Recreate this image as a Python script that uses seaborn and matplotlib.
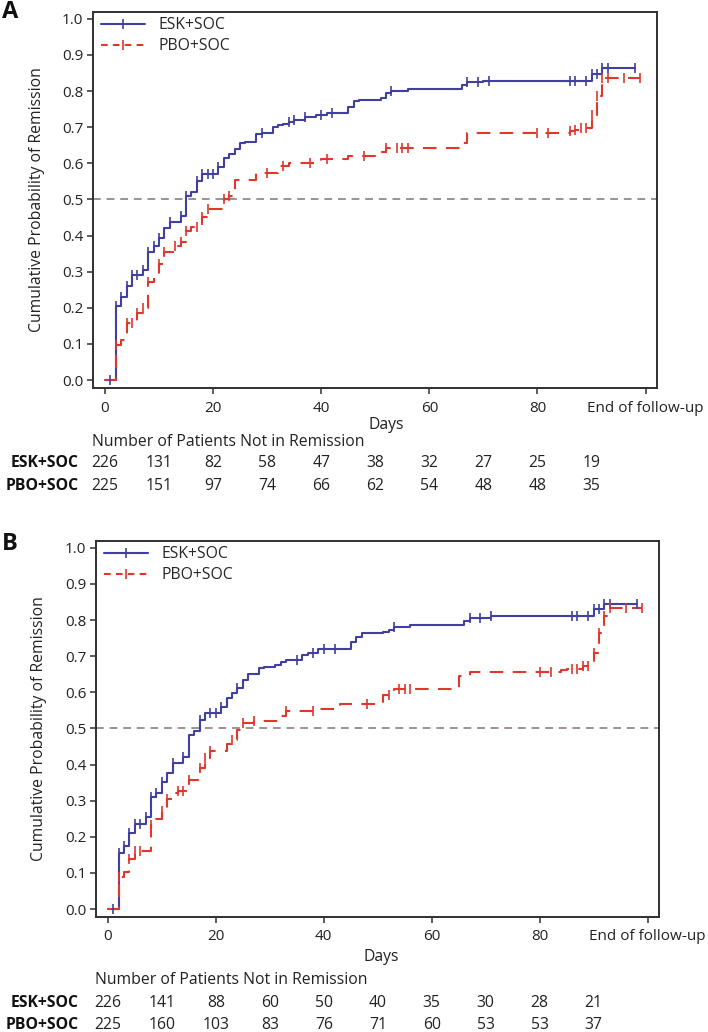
import numpy as np
import matplotlib
matplotlib.use("Agg")
import matplotlib.pyplot as plt
import matplotlib.transforms as mtransforms
from matplotlib.lines import Line2D
import seaborn as sns

# ---------------- data ----------------
arms = ["ESK+SOC", "PBO+SOC"]
risk_days = [0, 10, 20, 30, 40, 50, 60, 70, 80, 90]
x_ticks = [0, 20, 40, 60, 80, 100]
x_ticklabels = ["0", "20", "40", "60", "80", "End of follow-up"]
y_ticks = [0.0, 0.1, 0.2, 0.3, 0.4, 0.5, 0.6, 0.7, 0.8, 0.9, 1.0]

# Panel A
a_esk_t = [0, 2, 3, 4, 5, 7, 8, 9, 10, 11, 12, 14, 15, 16, 17, 18, 21, 22, 23, 24, 25, 26, 28, 29, 31,
           32, 33, 34, 35, 37, 39, 41, 45, 46, 47, 51, 52, 53, 56, 66, 67, 70, 90, 92]
a_esk_p = [0, 0.206, 0.23, 0.26, 0.29, 0.305, 0.355, 0.37, 0.392, 0.42, 0.437, 0.455, 0.51, 0.52, 0.55,
           0.57, 0.59, 0.615, 0.625, 0.64, 0.655, 0.66, 0.68, 0.685, 0.70, 0.705, 0.71, 0.715, 0.72,
           0.727, 0.735, 0.74, 0.757, 0.773, 0.776, 0.782, 0.794, 0.801, 0.805, 0.817, 0.824, 0.829,
           0.848, 0.863]
a_esk_end = 98
a_esk_cens = [1, 2, 3, 4, 5, 6, 7, 8, 9, 10, 12, 14, 15, 17, 18, 19, 20, 21, 29, 34, 35, 37, 40, 42,
              53, 67, 69, 71, 86, 87, 89, 90, 91, 92, 93, 98]

a_pbo_t = [0, 2, 3, 4, 6, 7, 8, 9, 10, 11, 13, 14, 15, 16, 18, 19, 22, 23, 24, 28, 32, 34, 40, 45,
           50, 52, 66, 67, 86, 87, 88, 90, 91, 92]
a_pbo_p = [0, 0.098, 0.11, 0.158, 0.186, 0.2, 0.272, 0.293, 0.321, 0.354, 0.37, 0.381, 0.413, 0.425,
           0.452, 0.474, 0.50, 0.51, 0.554, 0.572, 0.594, 0.60, 0.612, 0.62, 0.632, 0.643, 0.657,
           0.683, 0.69, 0.693, 0.699, 0.734, 0.787, 0.836]
a_pbo_end = 99
a_pbo_cens = [2, 4, 5, 6, 7, 8, 10, 11, 13, 14, 15, 17, 18, 19, 22, 23, 30, 33, 38, 41, 48, 52, 54,
              55, 56, 80, 82, 86, 87, 88, 89, 90, 91, 92, 93, 96, 99]

a_risk_esk = [226, 131, 82, 58, 47, 38, 32, 27, 25, 19]
a_risk_pbo = [225, 151, 97, 74, 66, 62, 54, 48, 48, 35]

# Panel B
b_esk_t = [0, 2, 3, 4, 5, 7, 8, 9, 10, 11, 12, 14, 15, 16, 17, 18, 21, 22, 23, 24, 25, 26, 28, 29,
           31, 32, 33, 36, 37, 39, 45, 46, 47, 51, 52, 53, 56, 66, 67, 71, 90, 92]
b_esk_p = [0, 0.156, 0.174, 0.211, 0.235, 0.256, 0.309, 0.32, 0.352, 0.378, 0.403, 0.422, 0.482,
           0.494, 0.524, 0.544, 0.559, 0.584, 0.598, 0.611, 0.634, 0.651, 0.667, 0.671, 0.676, 0.684,
           0.69, 0.704, 0.71, 0.72, 0.739, 0.753, 0.763, 0.768, 0.773, 0.782, 0.787, 0.798, 0.805,
           0.812, 0.83, 0.844]
b_esk_end = 98
b_esk_cens = [1, 2, 3, 4, 5, 6, 7, 8, 9, 10, 12, 14, 17, 19, 20, 21, 24, 35, 38, 40, 42, 53, 67, 69,
              71, 86, 87, 89, 90, 91, 92, 93, 98]

b_pbo_t = [0, 2, 3, 4, 5, 8, 9, 10, 11, 12, 13, 15, 17, 18, 19, 22, 23, 24, 25, 27, 32, 33, 39, 43,
           51, 53, 65, 67, 84, 85, 88, 90, 91, 92, 93]
b_pbo_p = [0, 0.089, 0.103, 0.138, 0.16, 0.233, 0.248, 0.272, 0.304, 0.32, 0.328, 0.357, 0.39,
           0.417, 0.438, 0.457, 0.468, 0.496, 0.514, 0.521, 0.535, 0.547, 0.554, 0.567, 0.593, 0.61,
           0.646, 0.657, 0.662, 0.665, 0.674, 0.708, 0.763, 0.81, 0.833]
b_pbo_end = 99
b_pbo_cens = [2, 4, 5, 6, 8, 10, 11, 13, 14, 15, 17, 18, 19, 23, 25, 27, 33, 38, 48, 52, 54, 55, 56,
              80, 82, 86, 87, 88, 89, 90, 91, 92, 93, 96, 99]

b_risk_esk = [226, 141, 88, 60, 50, 40, 35, 30, 28, 21]
b_risk_pbo = [225, 160, 103, 83, 76, 71, 60, 53, 53, 37]

# ---------------- style ----------------
sns.set_theme(style="ticks")
plt.rcParams["font.family"] = ["Open Sans", "DejaVu Sans"]
plt.rcParams["font.size"] = 11

BLUE = "#4040a2"
RED = "#e0372d"
REF = "#9d9292"
SPINE = "#303030"
TXT = "#222222"
DASH = (0, (6.5, 4.5))
FS = 11.3

W, H = 708, 1032
fig = plt.figure(figsize=(W / 100, H / 100), dpi=100)


def fy(px):
    return 1 - px / H


def step_value(times, probs, c):
    idx = np.searchsorted(np.asarray(times, float), c, side="right") - 1
    return np.asarray(probs, float)[idx]


def draw_curve(ax, times, probs, end, cens, color, ls):
    xs = list(times) + [end]
    ys = list(probs) + [probs[-1]]
    sns.lineplot(x=xs, y=ys, ax=ax, color=color, linewidth=1.5, drawstyle="steps-post",
                 estimator=None, sort=False, linestyle=ls, legend=False)
    cy = [step_value(times, probs, c) for c in cens]
    sns.scatterplot(x=cens, y=cy, ax=ax, color=color, marker="|", s=45, linewidth=1.2,
                    legend=False, zorder=3)


def panel(rect_px, letter, letter_xy, esk, pbo, risk_esk, risk_pbo, rows_px, lbl_x, days_xy,
          ylab_x, num_x):
    l, t, r, b = rect_px
    ax = fig.add_axes([l / W, fy(b), (r - l) / W, (b - t) / H])
    ax.axhline(0.5, color=REF, lw=1.4, ls=(0, (4, 3)))
    draw_curve(ax, *esk, BLUE, "-")
    draw_curve(ax, *pbo, RED, DASH)
    ax.set_xlim(-2.2, 102.1)
    ax.set_ylim(-0.022, 1.019)
    ax.set_xticks(x_ticks)
    ax.set_xticklabels(x_ticklabels)
    ax.set_yticks(y_ticks)
    ax.set_yticklabels([f"{v:.1f}" for v in y_ticks])
    ax.tick_params(axis="both", labelsize=11, length=4, width=1.1, color=SPINE,
                   labelcolor=TXT, pad=3)
    ax.tick_params(axis="x", pad=5)
    for s in ax.spines.values():
        s.set_color(SPINE)
        s.set_linewidth(1.4)
    ax.set_xlabel("")
    ax.set_ylabel("Cumulative Probability of Remission", fontsize=FS, color=TXT)
    ax.yaxis.set_label_coords(ylab_x, 0.5)

    handles = [Line2D([], [], color=BLUE, lw=1.5, marker="|", markersize=7, markeredgewidth=1.2),
               Line2D([], [], color=RED, lw=1.5, ls=(0, (3.2, 2.5)), marker="|", markersize=7,
                      markeredgewidth=1.2)]
    ax.legend(handles, arms, loc="upper left", bbox_to_anchor=(0.004, 1.0), frameon=False,
              handlelength=2.8, handletextpad=0.85, borderaxespad=0.15, borderpad=0.2,
              labelspacing=0.3, fontsize=FS)

    fig.text(letter_xy[0] / W, fy(letter_xy[1]), letter, fontsize=17, fontweight="bold",
             ha="left", va="center", color="#111111")

    trans = mtransforms.blended_transform_factory(ax.transData, fig.transFigure)
    fig.text(days_xy[0] / W, fy(days_xy[1]), "Days", fontsize=FS, ha="center", va="center",
             color=TXT)
    fig.text(num_x / W, fy(rows_px[0]), "Number of Patients Not in Remission", fontsize=FS,
             ha="left", va="center", color=TXT)
    for name, vals, ypx in [(arms[0], risk_esk, rows_px[1]), (arms[1], risk_pbo, rows_px[2])]:
        fig.text(lbl_x / W, fy(ypx), name, fontsize=FS, fontweight="bold", ha="right",
                 va="center", color="#111111")
        for d, v in zip(risk_days, vals):
            ax.text(d, fy(ypx), str(v), transform=trans, fontsize=FS, ha="center",
                    va="center", color=TXT)
    return ax


panel((93, 12, 657, 388), "A", (2, 12),
      (a_esk_t, a_esk_p, a_esk_end, a_esk_cens),
      (a_pbo_t, a_pbo_p, a_pbo_end, a_pbo_cens),
      a_risk_esk, a_risk_pbo, (441.7, 463, 486), 79, (386.7, 425), -0.085, 91.7)

panel((96, 541, 659, 917), "B", (2, 544),
      (b_esk_t, b_esk_p, b_esk_end, b_esk_cens),
      (b_pbo_t, b_pbo_p, b_pbo_end, b_pbo_cens),
      b_risk_esk, b_risk_pbo, (980, 1003, 1025), 79, (381.7, 956.7), -0.087, 95)

fig.savefig("out.png", dpi=100)
